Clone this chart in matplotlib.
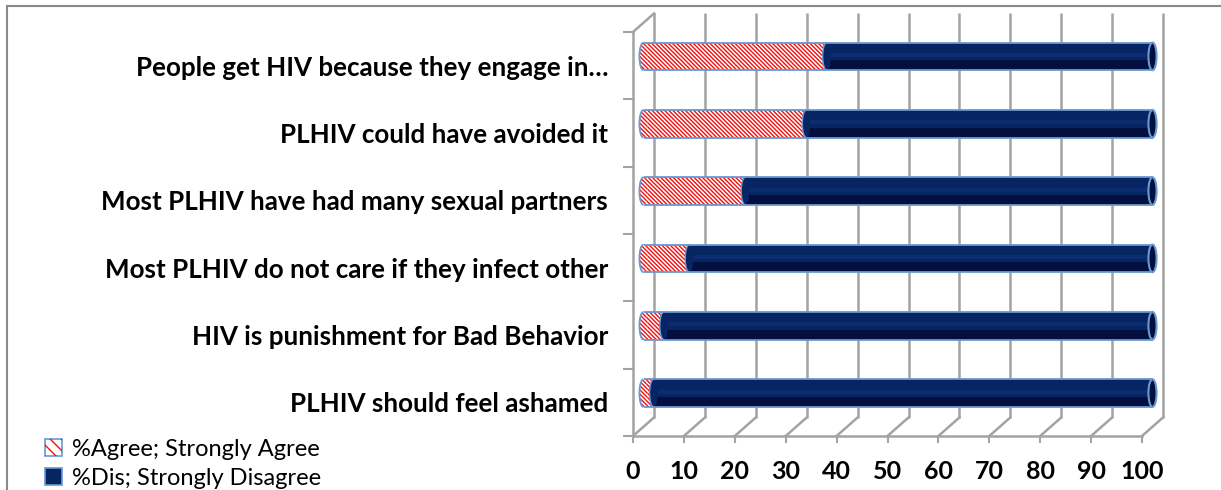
import numpy as np
import matplotlib
matplotlib.use('Agg')
import matplotlib.pyplot as plt
from matplotlib.patches import Ellipse, Arc, Patch
from matplotlib.transforms import ScaledTranslation
from matplotlib.lines import Line2D
from matplotlib.legend_handler import HandlerTuple

plt.rcParams['font.family'] = ['Lato', 'DejaVu Sans']
plt.rcParams['hatch.linewidth'] = 1.0

# statements, top to bottom
statements = [
    'People get HIV because they engage in\u2026',
    'PLHIV could have avoided it',
    'Most PLHIV have had many sexual partners',
    'Most PLHIV do not care if they infect other',
    'HIV is punishment for Bad Behavior',
    'PLHIV should feel ashamed',
]
agree = [36, 32, 20, 9, 4, 2]
disagree = [64, 68, 80, 91, 96, 98]
xticks = list(range(0, 101, 10))

navy = '#082563'
navy_dark = '#020f3f'
rim = '#6a98d0'
grid = '#a3a3a3'
red = '#f01010'
stripes = '\\' * 8

W, H = 1221, 490
fig = plt.figure(figsize=(W / 100, H / 100), dpi=100)

# front plane of the 3d box
x0, x1, yb, yt = 633, 1142, 436, 32
ax = fig.add_axes([x0 / W, (H - yb) / H, (x1 - x0) / W, (yb - yt) / H])
ax.set_xlim(0, 100)
ax.set_ylim(-0.5, 5.5)
ypos = np.arange(len(statements))[::-1]

# depth of the box, in pixels and in data units
dpx, dpy = 21, 18.5
DX = dpx / ((x1 - x0) / 100)
DY = dpy / ((yb - yt) / 6)
back_tr = ax.transData + ScaledTranslation(dpx / 100, dpy / 100, fig.dpi_scale_trans)
bar_tr = ax.transData + ScaledTranslation(dpx / 200, dpy / 200, fig.dpi_scale_trans)

# back wall gridlines and floor
ax.vlines(xticks, -0.5, 5.5, transform=back_tr, color=grid, lw=1.8, zorder=0, clip_on=False)
for t in xticks:
    ax.plot([t, t + DX], [-0.5, -0.5 + DY], color=grid, lw=1.8, clip_on=False, zorder=0)
ax.plot([0, DX], [5.5, 5.5 + DY], color=grid, lw=1.8, clip_on=False, zorder=0)

for s in ['top', 'right']:
    ax.spines[s].set_visible(False)
for s in ['left', 'bottom']:
    ax.spines[s].set_color(grid)
    ax.spines[s].set_linewidth(1.8)

# cylinders
h = 0.41
cap_w = 1.6
for y, a, d in zip(ypos, agree, disagree):
    ax.barh(y, a, height=h, left=0, color='white', edgecolor=red, hatch=stripes,
            lw=0, transform=bar_tr, zorder=2, clip_on=False)
    ax.add_patch(Ellipse((0, y), cap_w, h, facecolor='white', edgecolor=red, hatch=stripes,
                         lw=0, transform=bar_tr, zorder=2, clip_on=False))
    ax.add_patch(Arc((0, y), cap_w, h, theta1=90, theta2=270, color=rim, lw=1.3,
                     transform=bar_tr, zorder=5, clip_on=False))
    ax.barh(y, d, height=h, left=a, color=navy, lw=0, transform=bar_tr, zorder=3,
            clip_on=False)
    ax.barh(y - h * 0.32, d, height=h * 0.36, left=a, color=navy_dark, lw=0,
            transform=bar_tr, zorder=3, clip_on=False)
    ax.barh(y + h * 0.05, d, height=h * 0.14, left=a, color='#0b2c70', lw=0,
            transform=bar_tr, zorder=3, clip_on=False)
    ax.add_patch(Ellipse((a, y), cap_w, h, facecolor=navy, lw=0, transform=bar_tr,
                         zorder=3, clip_on=False))
    ax.add_patch(Arc((a, y), cap_w, h, theta1=90, theta2=270, color=rim, lw=1.0,
                     transform=bar_tr, zorder=4, clip_on=False))
    ax.hlines([y - h / 2, y + h / 2], 0, a + d, color=rim, lw=1.3, transform=bar_tr,
              zorder=4, clip_on=False)
    ax.add_patch(Ellipse((a + d, y), cap_w, h, facecolor='#01103d', edgecolor=rim, lw=1.5,
                         transform=bar_tr, zorder=5, clip_on=False))

# axis ticks and labels
ax.set_xticks(xticks)
ax.set_xticklabels([str(t) for t in xticks], fontsize=18, fontweight='bold')
ax.tick_params(axis='x', length=5, width=1.5, color=grid, pad=12)
ax.set_yticks(ypos)
ax.set_yticklabels(statements, fontsize=18.7, fontweight='bold')
ax.tick_params(axis='y', which='major', length=0, pad=18)
ax.set_yticks(np.arange(-0.5, 6, 1), minor=True)
ax.tick_params(axis='y', which='minor', length=7, width=1.5, color=grid)

# legend
h_agree = (Patch(facecolor='white', edgecolor=rim, lw=1.2),
           Patch(facecolor='none', edgecolor=red, hatch='\\\\\\', lw=0))
h_dis = Patch(facecolor=navy, edgecolor=rim, lw=1.2)
fig.legend([h_agree, h_dis], ['%Agree; Strongly Agree', '%Dis; Strongly Disagree'],
           handler_map={tuple: HandlerTuple(ndivide=1, pad=0)},
           loc='upper left', bbox_to_anchor=(45 / W, 1 - 439 / H), frameon=False,
           fontsize=17, handlelength=0.7, handleheight=0.7, handletextpad=0.45,
           labelspacing=0.32, borderpad=0, borderaxespad=0)

# chart border
fig.add_artist(Line2D([7 / W, 7 / W], [0, 1 - 6 / H], color='#8a8a8a', lw=1.5))
fig.add_artist(Line2D([7 / W, 1], [1 - 6 / H, 1 - 6 / H], color='#8a8a8a', lw=1.5))

fig.savefig('out.png', dpi=100)
